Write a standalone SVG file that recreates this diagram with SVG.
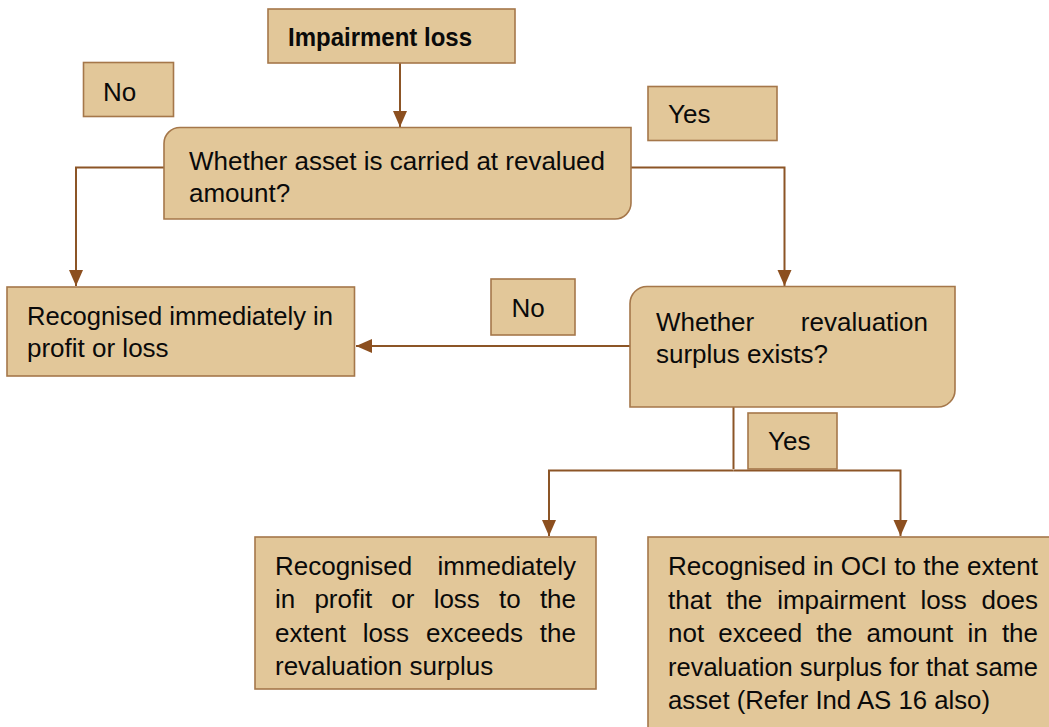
<svg xmlns="http://www.w3.org/2000/svg" width="1049" height="727" viewBox="0 0 1049 727">
<style>
.box{fill:#e2c799;stroke:#a5774a;stroke-width:1.6}
.t{font-family:"Liberation Sans",Arial,sans-serif;font-size:26px;fill:#0a0a0a}
.b{font-weight:bold}
.c{fill:none;stroke:#8c5526;stroke-width:2}
</style>
<defs>
<marker id="ah" markerUnits="userSpaceOnUse" markerWidth="16" markerHeight="16" viewBox="0 0 16 16" refX="16" refY="8" orient="auto">
<path d="M0,1 L16,8 L0,15 z" fill="#8c4f1f"/>
</marker>
</defs>
<rect width="1049" height="727" fill="#ffffff"/>
<g id="connectors">
<polyline class="c" points="400,63 400,127" marker-end="url(#ah)"/>
<polyline class="c" points="164,167.5 76,167.5 76,286" marker-end="url(#ah)"/>
<polyline class="c" points="631,167.5 784.5,167.5 784.5,286" marker-end="url(#ah)"/>
<polyline class="c" points="630,346 356,346" marker-end="url(#ah)"/>
<polyline class="c" points="733.5,406 733.5,469"/>
<polyline class="c" points="733.5,470.5 549,470.5 549,536" marker-end="url(#ah)"/>
<polyline class="c" points="733.5,470.5 900.5,470.5 900.5,536" marker-end="url(#ah)"/>
</g>
<g id="impairment-loss">
<rect class="box" x="268" y="9" width="247" height="54"/>
<text class="t b" x="288" y="46" textLength="184" lengthAdjust="spacingAndGlyphs">Impairment loss</text>
</g>
<g id="label-no-1">
<rect class="box" x="83.5" y="62.5" width="90" height="54"/>
<text class="t" x="103" y="100.5">No</text>
</g>
<g id="label-yes-1">
<rect class="box" x="648" y="86.5" width="129" height="54"/>
<text class="t" x="668" y="123">Yes</text>
</g>
<g id="decision-revalued">
<path class="box" d="M180,127.5 H631 V203 A16,16 0 0 1 615,219 H164 V143.5 A16,16 0 0 1 180,127.5 Z"/>
<text class="t" x="189" y="169.5" textLength="416" lengthAdjust="spacingAndGlyphs">Whether asset is carried at revalued</text>
<text class="t" x="189" y="202">amount?</text>
</g>
<g id="recognised-pl">
<rect class="box" x="7" y="287" width="347.5" height="89"/>
<text class="t" x="27" y="324.5" textLength="306" lengthAdjust="spacingAndGlyphs">Recognised immediately in</text>
<text class="t" x="27" y="357">profit or loss</text>
</g>
<g id="label-no-2">
<rect class="box" x="491" y="279" width="84" height="56"/>
<text class="t" x="511.5" y="316.5">No</text>
</g>
<g id="decision-surplus">
<path class="box" d="M647,286.5 H955 V390 A17,17 0 0 1 938,407 H630 V303.5 A17,17 0 0 1 647,286.5 Z"/>
<text class="t" x="656" y="330.5" word-spacing="39.4" textLength="272" lengthAdjust="spacingAndGlyphs">Whether revaluation</text>
<text class="t" x="656" y="363">surplus exists?</text>
</g>
<g id="label-yes-2">
<rect class="box" x="748" y="413" width="89" height="56"/>
<text class="t" x="768" y="450">Yes</text>
</g>
<g id="recognised-excess">
<rect class="box" x="255" y="537" width="341" height="152"/>
<text class="t" x="275" y="574.5" word-spacing="18" textLength="301" lengthAdjust="spacingAndGlyphs">Recognised immediately</text>
<text class="t" x="275" y="608" word-spacing="12" textLength="301" lengthAdjust="spacingAndGlyphs">in profit or loss to the</text>
<text class="t" x="275" y="641.5" word-spacing="9.7" textLength="301" lengthAdjust="spacingAndGlyphs">extent loss exceeds the</text>
<text class="t" x="275" y="675">revaluation surplus</text>
</g>
<g id="recognised-oci">
<rect class="box" x="648" y="537" width="410" height="200"/>
<text class="t" x="668" y="575" textLength="370" lengthAdjust="spacingAndGlyphs">Recognised in OCI to the extent</text>
<text class="t" x="668" y="608.5" word-spacing="7.6" textLength="370" lengthAdjust="spacingAndGlyphs">that the impairment loss does</text>
<text class="t" x="668" y="642" word-spacing="7" textLength="370" lengthAdjust="spacingAndGlyphs">not exceed the amount in the</text>
<text class="t" x="668" y="675.5" textLength="370" lengthAdjust="spacingAndGlyphs">revaluation surplus for that same</text>
<text class="t" x="668" y="708.5" textLength="322" lengthAdjust="spacingAndGlyphs">asset (Refer Ind AS 16 also)</text>
</g>
</svg>
